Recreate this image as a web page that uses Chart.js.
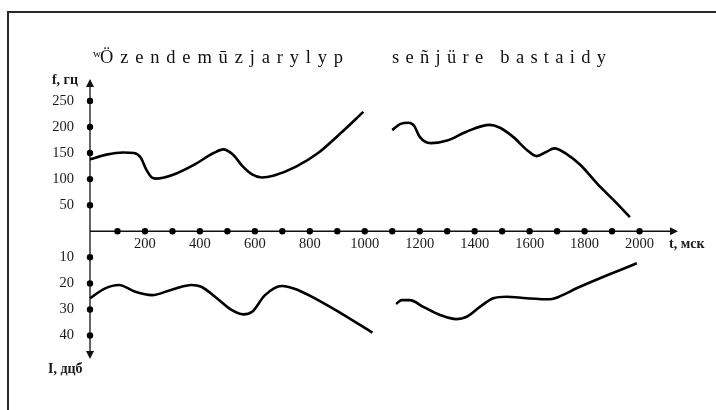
<!DOCTYPE html>
<html>
<head>
<meta charset="utf-8">
<script src="https://cdn.jsdelivr.net/npm/chart.js@4.4.3/dist/chart.umd.min.js"></script>
<style>
  html, body { margin: 0; padding: 0; background: #fff; }
  canvas { display: block; }
</style>
</head>
<body>
<canvas id="contour" width="716" height="410"></canvas>
<script>
// pitch contour, first phrase (t in ms, f in Hz)
const pitchTime1 = [0, 60, 120, 160, 185, 205, 225, 240, 300, 380, 450, 485, 520, 555, 590, 625, 670, 750, 830, 910, 995];
const pitchHz1 = [138, 147, 151, 150, 141, 118, 103, 101, 108, 128, 150, 157, 147, 125, 109, 103, 107, 124, 150, 187, 229];
// pitch contour, second phrase
const pitchTime2 = [1100, 1130, 1160, 1180, 1200, 1240, 1300, 1370, 1455, 1490, 1540, 1590, 1625, 1660, 1690, 1735, 1785, 1845, 1905, 1965];
const pitchHz2 = [194, 206, 208, 202, 181, 169, 174, 191, 204, 199, 181, 156, 144, 152, 159, 148, 127, 92, 60, 27];
// intensity, first phrase (dB, drawn downwards)
const levelTime1 = [0, 55, 105, 165, 225, 300, 370, 405, 465, 515, 558, 590, 637, 698, 758, 830, 905, 1028];
const levelDb1 = [25.7, 21.9, 20.6, 23.2, 24.5, 22.3, 20.6, 21.3, 26, 30.2, 31.9, 30.9, 24.5, 21, 22.6, 26.4, 30.9, 38.9];
// intensity, second phrase
const levelTime2 = [1114, 1134, 1164, 1213, 1274, 1334, 1371, 1419, 1468, 1516, 1589, 1674, 1692, 1783, 1905, 1990];
const levelDb2 = [27.9, 26.4, 26.4, 29, 32.1, 33.7, 32.8, 29, 25.7, 25.1, 25.7, 26.1, 25.7, 21.3, 15.9, 12.3];

const timeTicks = [100, 200, 300, 400, 500, 600, 700, 800, 900, 1000, 1100, 1200, 1300, 1400, 1500, 1600, 1700, 1800, 1900, 2000];
const timeLabels = [200, 400, 600, 800, 1000, 1200, 1400, 1600, 1800, 2000];
const freqTicks = [50, 100, 150, 200, 250];
const levelTicks = [10, 20, 30, 40];

const phrase1 = 'Özendemūzjarylyp';
const phrase2 = 'señjüre bastaidy';

const SERIF = '"Liberation Serif", "Times New Roman", serif';

function pairs(xs, ys) {
  return xs.map((v, i) => ({ x: v, y: ys[i] }));
}

const curve = (data, axis) => ({
  type: 'line',
  data,
  yAxisID: axis,
  borderColor: '#000',
  borderWidth: 2.6,
  pointRadius: 0,
  cubicInterpolationMode: 'monotone',
  fill: false,
  clip: false
});

const dots = (data, axis) => ({
  type: 'scatter',
  data,
  yAxisID: axis,
  showLine: false,
  pointRadius: 3.2,
  pointBackgroundColor: '#000',
  pointBorderWidth: 0,
  clip: false
});

// spreads letters between two x positions
function spacedText(ctx, text, xStart, xEnd, y) {
  const chars = [...text];
  const widths = chars.map(c => ctx.measureText(c).width);
  const total = widths.reduce((a, b) => a + b, 0);
  const gap = (xEnd - xStart - total) / (chars.length - 1);
  let cx = xStart;
  chars.forEach((c, i) => {
    ctx.fillText(c, cx, y);
    cx += widths[i] + gap;
  });
}

const axesPlugin = {
  id: 'axes',
  beforeDatasetsDraw(chart) {
    const { ctx, scales: { x, yF, yI } } = chart;
    const x0 = x.getPixelForValue(0);
    const xEnd = x.getPixelForValue(x.max);
    const y0 = yF.getPixelForValue(0);
    const yTop = yF.getPixelForValue(yF.max);
    const yBot = yI.getPixelForValue(yI.max);

    ctx.save();
    // frame
    ctx.strokeStyle = '#2a2a2a';
    ctx.lineWidth = 2;
    ctx.strokeRect(8, 12, 730, 430);

    // axis lines
    ctx.strokeStyle = '#111';
    ctx.lineWidth = 1.3;
    ctx.beginPath();
    ctx.moveTo(x0, yTop + 4);
    ctx.lineTo(x0, yBot - 4);
    ctx.moveTo(x0, y0);
    ctx.lineTo(xEnd - 4, y0);
    ctx.stroke();

    // arrow heads
    ctx.fillStyle = '#111';
    ctx.beginPath();
    ctx.moveTo(x0, yTop);
    ctx.lineTo(x0 - 4, yTop + 8);
    ctx.lineTo(x0 + 4, yTop + 8);
    ctx.closePath();
    ctx.moveTo(x0, yBot);
    ctx.lineTo(x0 - 4, yBot - 8);
    ctx.lineTo(x0 + 4, yBot - 8);
    ctx.closePath();
    ctx.moveTo(xEnd, y0);
    ctx.lineTo(xEnd - 8, y0 - 4);
    ctx.lineTo(xEnd - 8, y0 + 4);
    ctx.closePath();
    ctx.fill();

    // tick labels
    ctx.fillStyle = '#1a1a1a';
    ctx.font = '14.5px ' + SERIF;
    ctx.textBaseline = 'middle';
    ctx.textAlign = 'right';
    freqTicks.forEach(v => ctx.fillText(String(v), x0 - 16, yF.getPixelForValue(v)));
    levelTicks.forEach(v => ctx.fillText(String(v), x0 - 16, yI.getPixelForValue(v)));
    ctx.textAlign = 'center';
    timeLabels.forEach(v => ctx.fillText(String(v), x.getPixelForValue(v), y0 + 13));

    // axis titles
    ctx.font = 'bold 14px ' + SERIF;
    ctx.textAlign = 'right';
    ctx.fillText('f, гц', x0 - 12, yTop + 1);
    ctx.textAlign = 'left';
    ctx.fillText('I, дцб', x0 - 42, yBot + 10);
    ctx.fillText('t, мск', xEnd - 9, y0 + 13);

    // phrase captions
    ctx.fillStyle = '#111';
    ctx.textBaseline = 'alphabetic';
    ctx.font = '11px ' + SERIF;
    ctx.fillText('w', 93, 57);
    ctx.font = '18.5px ' + SERIF;
    spacedText(ctx, phrase1, 100, 343, 63);
    spacedText(ctx, phrase2, 392, 606, 63);
    ctx.restore();
  }
};

new Chart(document.getElementById('contour'), {
  data: {
    datasets: [
      curve(pairs(pitchTime1, pitchHz1), 'yF'),
      curve(pairs(pitchTime2, pitchHz2), 'yF'),
      curve(pairs(levelTime1, levelDb1), 'yI'),
      curve(pairs(levelTime2, levelDb2), 'yI'),
      dots(timeTicks.map(t => ({ x: t, y: 0 })), 'yF'),
      dots(freqTicks.map(f => ({ x: 0, y: f })), 'yF'),
      dots(levelTicks.map(d => ({ x: 0, y: d })), 'yI')
    ]
  },
  options: {
    responsive: false,
    devicePixelRatio: 1,
    animation: false,
    layout: { padding: { left: 90, right: 38, top: 79, bottom: 51 } },
    plugins: {
      legend: { display: false },
      tooltip: { enabled: false }
    },
    scales: {
      x: { type: 'linear', min: 0, max: 2140, display: false },
      yF: { type: 'linear', position: 'left', min: -245, max: 292, display: false },
      yI: { type: 'linear', position: 'left', reverse: true, min: -58.4, max: 49, display: false }
    }
  },
  plugins: [axesPlugin]
});
</script>
</body>
</html>
